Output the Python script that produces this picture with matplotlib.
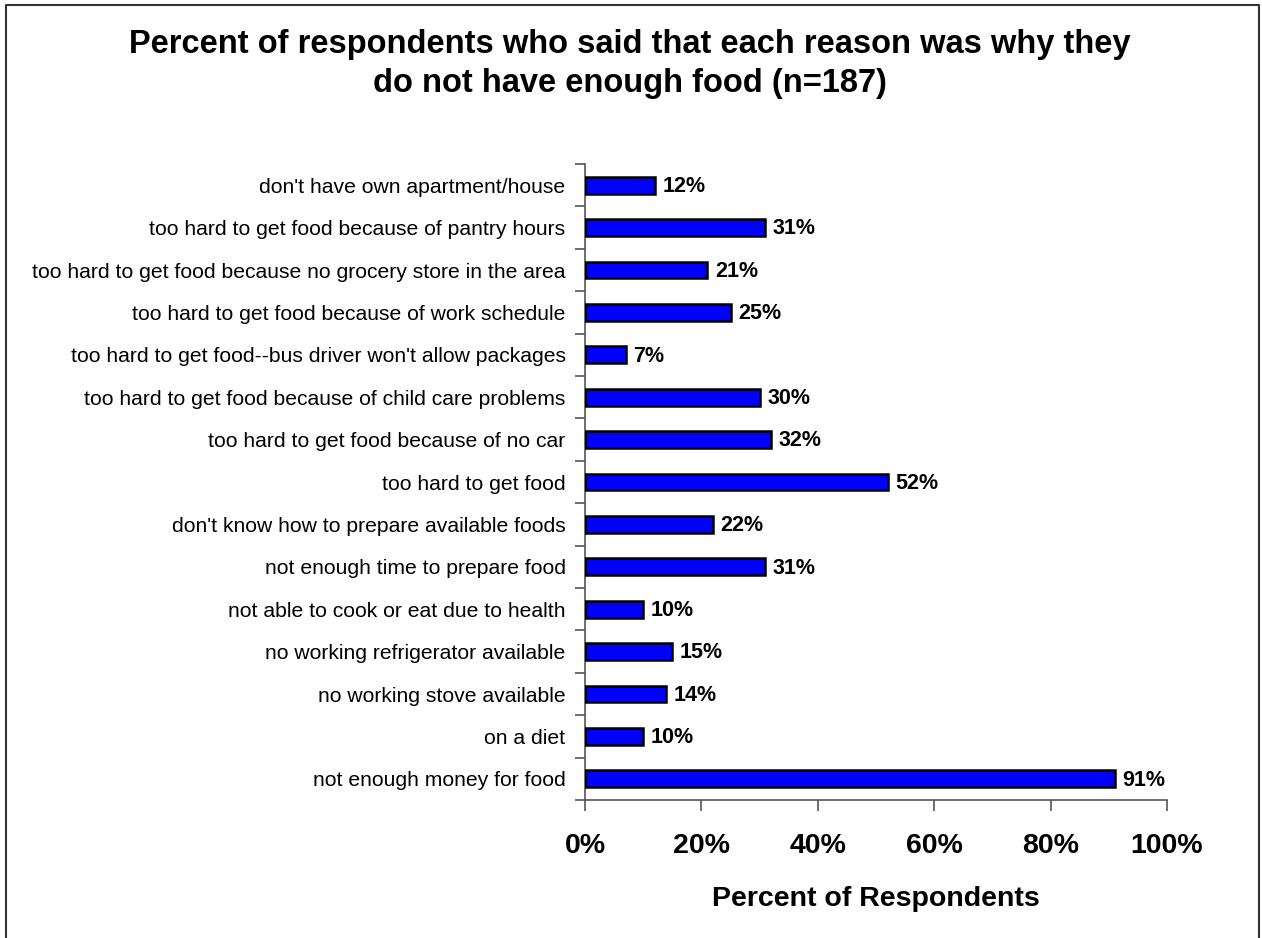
import matplotlib.pyplot as plt
from matplotlib.ticker import FixedLocator

plt.rcParams['font.family'] = ['Liberation Sans', 'DejaVu Sans']

# reasons, listed from the bottom bar to the top bar
reasons = [
    "not enough money for food",
    "on a diet",
    "no working stove available",
    "no working refrigerator available",
    "not able to cook or eat due to health",
    "not enough time to prepare food",
    "don't know how to prepare available foods",
    "too hard to get food",
    "too hard to get food because of no car",
    "too hard to get food because of child care problems",
    "too hard to get food--bus driver won't allow packages",
    "too hard to get food because of work schedule",
    "too hard to get food because no grocery store in the area",
    "too hard to get food because of pantry hours",
    "don't have own apartment/house",
]
percents = [91, 10, 14, 15, 10, 31, 22, 52, 32, 30, 7, 25, 21, 31, 12]
xticks = [0, 20, 40, 60, 80, 100]
xtick_labels = ["0%", "20%", "40%", "60%", "80%", "100%"]

fig = plt.figure(figsize=(12.62, 9.38), dpi=100)
ax = fig.add_axes([585 / 1262, 1 - 800 / 938, (1167 - 585) / 1262, (800 - 164) / 938])

ypos = list(range(len(reasons)))
ax.barh(ypos, percents, height=0.4, color='#0000FF', edgecolor='black', linewidth=1.8, zorder=3)
for y, v in zip(ypos, percents):
    ax.text(v + 1.3, y - 0.03, f"{v}%", va='center', ha='left', fontsize=15.5, fontweight='bold')

ax.set_xlim(0, 100)
ax.set_ylim(-0.5, len(reasons) - 0.5)
ax.set_xticks(xticks)
ax.set_xticklabels(xtick_labels, fontsize=20.5, fontweight='bold')
ax.set_yticks(ypos)
ax.set_yticklabels(reasons, fontsize=15.2)
ax.yaxis.set_minor_locator(FixedLocator([i - 0.5 for i in range(len(reasons) + 1)]))
ax.tick_params(axis='y', which='major', length=0, pad=14)
ax.tick_params(axis='y', which='minor', length=7, color='#555555', width=1.2)
ax.tick_params(axis='x', length=8, color='#555555', width=1.2, pad=16)

for side in ['top', 'right']:
    ax.spines[side].set_visible(False)
for side in ['left', 'bottom']:
    ax.spines[side].set_color('#555555')
    ax.spines[side].set_linewidth(1.2)

ax.set_xlabel("Percent of Respondents", fontsize=20.5, fontweight='bold', labelpad=19)

fig.text(630 / 1262, 1 - 64 / 938,
         "Percent of respondents who said that each reason was why they\ndo not have enough food (n=187)",
         ha='center', va='center', fontsize=23.5, fontweight='bold', linespacing=1.35)

# outer frame (open at the bottom)
fig.lines.append(plt.Line2D([6 / 1262, 6 / 1262, 1259 / 1262, 1259 / 1262],
                            [0, 1 - 5 / 938, 1 - 5 / 938, 0],
                            transform=fig.transFigure, color='#333333', linewidth=1.5))

fig.savefig("out.png", dpi=100)
